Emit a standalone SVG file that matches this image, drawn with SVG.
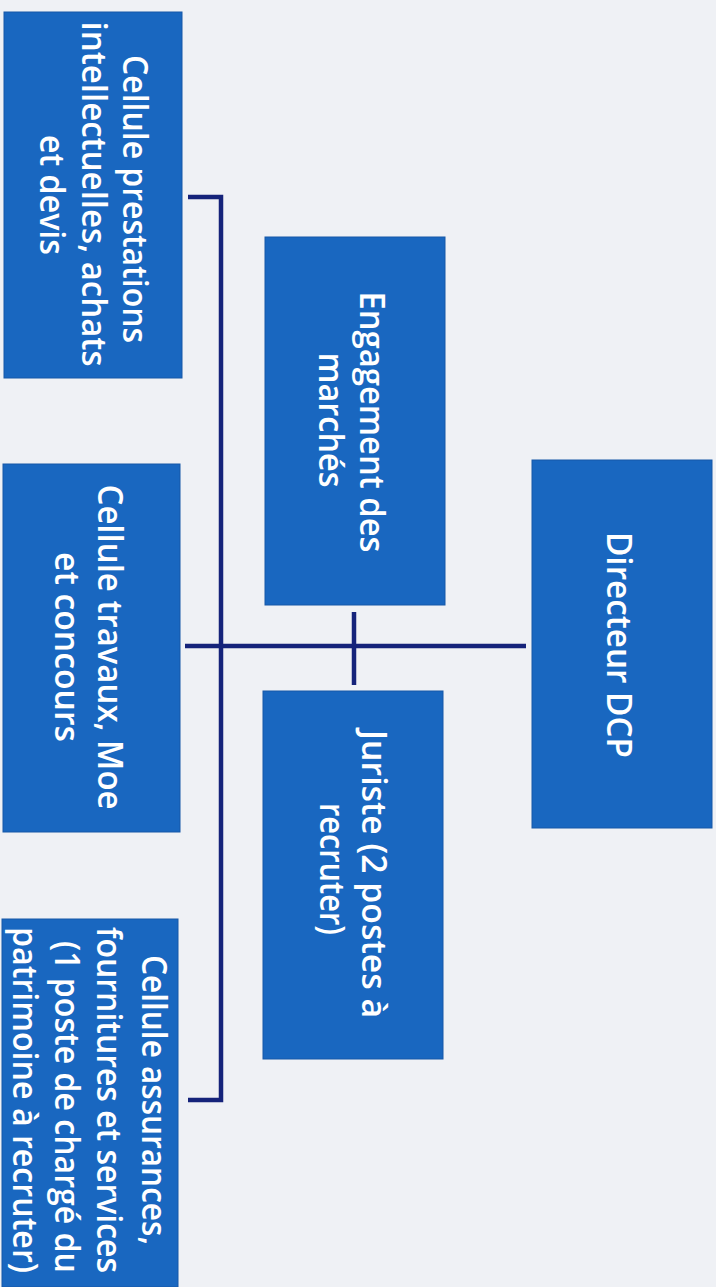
<svg xmlns="http://www.w3.org/2000/svg" width="716" height="1287" viewBox="0 0 716 1287">
<style>
.bg{fill:#eff1f5}
.box{fill:#1967c0;stroke:#1758a8;stroke-width:1}
.lbl{font-family:"Open Sans","Liberation Sans",sans-serif;font-size:34px;font-weight:600;fill:#ffffff;text-anchor:middle}
.con{fill:none;stroke:#15237a;stroke-width:4.5}
</style>
<rect class="bg" x="0" y="0" width="716" height="1287"/>
<g id="connectors">
<path class="con" d="M188,197 H221 V1100 H188"/>
<path class="con" d="M185,646 H526"/>
<path class="con" d="M354,612 V685"/>
</g>
<g id="directeur">
<rect class="box" x="532" y="460" width="180" height="368"/>
<text class="lbl" transform="translate(607,645) rotate(90)" textLength="226" lengthAdjust="spacingAndGlyphs">Directeur DCP</text>
</g>
<g id="engagement">
<rect class="box" x="265" y="237" width="180" height="368"/>
<text class="lbl" transform="translate(360,422) rotate(90)" textLength="261" lengthAdjust="spacingAndGlyphs">Engagement des</text>
<text class="lbl" transform="translate(319,420) rotate(90)" textLength="135" lengthAdjust="spacingAndGlyphs">marchés</text>
</g>
<g id="juriste">
<rect class="box" x="263" y="691" width="180" height="368"/>
<text class="lbl" transform="translate(362,874) rotate(90)" textLength="288" lengthAdjust="spacingAndGlyphs">Juriste (2 postes à</text>
<text class="lbl" transform="translate(320,869) rotate(90)" textLength="132" lengthAdjust="spacingAndGlyphs">recruter)</text>
</g>
<g id="prestations">
<rect class="box" x="4" y="12" width="178" height="366"/>
<text class="lbl" transform="translate(123,199) rotate(90)" textLength="288" lengthAdjust="spacingAndGlyphs">Cellule prestations</text>
<text class="lbl" transform="translate(82,194) rotate(90)" textLength="345" lengthAdjust="spacingAndGlyphs">intellectuelles, achats</text>
<text class="lbl" transform="translate(40,195) rotate(90)" textLength="120" lengthAdjust="spacingAndGlyphs">et devis</text>
</g>
<g id="travaux">
<rect class="box" x="3" y="464" width="177" height="368"/>
<text class="lbl" transform="translate(98,647) rotate(90)" textLength="325" lengthAdjust="spacingAndGlyphs">Cellule travaux, Moe</text>
<text class="lbl" transform="translate(55,647) rotate(90)" textLength="190" lengthAdjust="spacingAndGlyphs">et concours</text>
</g>
<g id="assurances">
<rect class="box" x="2" y="919" width="176" height="368"/>
<text class="lbl" transform="translate(142,1100) rotate(90)" textLength="290" lengthAdjust="spacingAndGlyphs">Cellule assurances,</text>
<text class="lbl" transform="translate(97,1100) rotate(90)" textLength="346" lengthAdjust="spacingAndGlyphs">fournitures et services</text>
<text class="lbl" transform="translate(55,1107) rotate(90)" textLength="332" lengthAdjust="spacingAndGlyphs">(1 poste de chargé du</text>
<text class="lbl" transform="translate(13,1100) rotate(90)" textLength="346" lengthAdjust="spacingAndGlyphs">patrimoine à recruter)</text>
</g>
</svg>
